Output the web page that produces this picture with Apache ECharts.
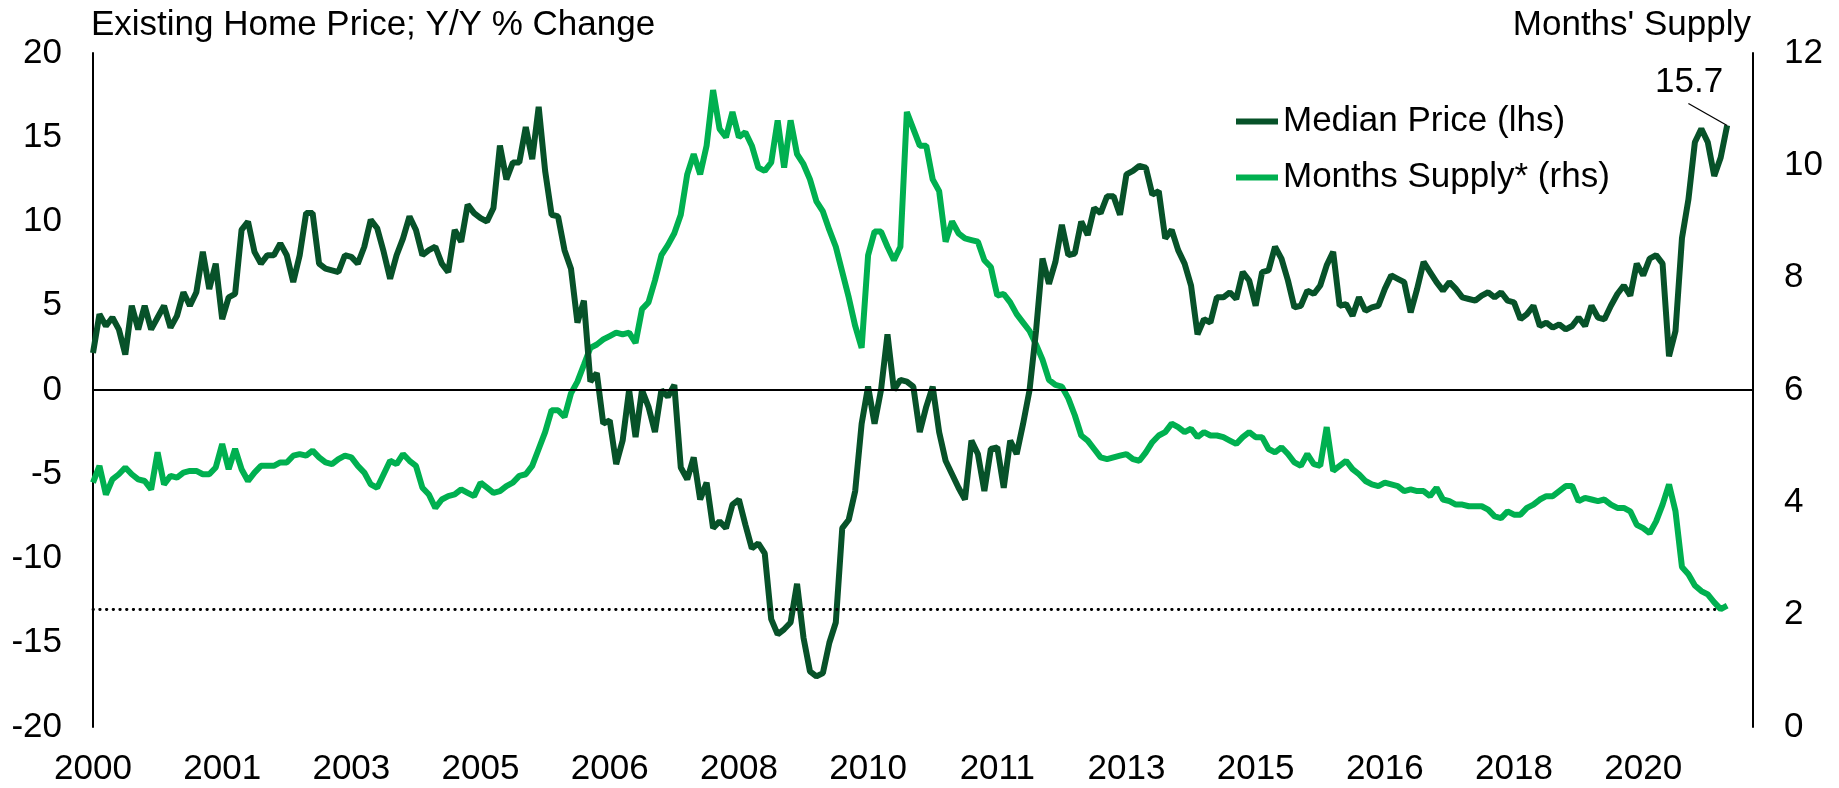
<!DOCTYPE html>
<html>
<head>
<meta charset="utf-8">
<title>Existing Home Price vs Months' Supply</title>
<script src="https://cdn.jsdelivr.net/npm/echarts/dist/echarts.min.js"></script>
<style>
  html, body { margin: 0; padding: 0; background: #fff; }
  #chart { width: 1839px; height: 788px; }
</style>
</head>
<body>
<div id="chart"></div>
<script>
// monthly, Jan 2000 - Feb 2021
var medianPrice = [
  2.2, 4.5, 3.8, 4.3, 3.6, 2.1, 5.0, 3.6, 5.0, 3.6, 4.3, 5.0,
  3.7, 4.4, 5.8, 5.0, 5.8, 8.2, 6.0, 7.5, 4.2, 5.5, 5.7, 9.5,
  10.0, 8.2, 7.5, 8.0, 8.0, 8.7, 8.0, 6.4, 8.0, 10.5, 10.5, 7.5,
  7.2, 7.1, 7.0, 8.0, 7.9, 7.5, 8.5, 10.1, 9.6, 8.2, 6.6, 8.0,
  9.0, 10.3, 9.5, 8.0, 8.3, 8.5, 7.5, 7.0, 9.5, 8.8, 11.0, 10.5,
  10.2, 10.0, 10.8, 14.5, 12.5, 13.5, 13.5, 15.6, 13.7, 16.8, 13.0, 10.4,
  10.3, 8.3, 7.2, 4.0, 5.3, 0.5, 1.0, -2.0, -1.8, -4.4, -3.0, 0.0,
  -2.8, 0.0, -1.0, -2.5, 0.0, -0.4, 0.3, -4.6, -5.3, -4.0, -6.5, -5.5,
  -8.2, -7.8, -8.2, -6.8, -6.5, -8.0, -9.4, -9.1, -9.7, -13.6, -14.5, -14.2,
  -13.8, -11.5, -14.7, -16.7, -17.0, -16.8, -15.0, -13.8, -8.2, -7.7, -6.0, -2.0,
  0.2, -2.0, 0.0, 3.3, 0.0, 0.6, 0.5, 0.2, -2.5, -1.0, 0.2, -2.5,
  -4.2, -5.0, -5.8, -6.5, -3.0, -3.8, -6.0, -3.5, -3.4, -5.8, -3.0, -3.8,
  -2.0, 0.0, 3.5, 7.8, 6.3, 7.6, 9.8, 8.0, 8.1, 10.0, 9.2, 10.8,
  10.5, 11.5, 11.5, 10.4, 12.8, 13.0, 13.3, 13.2, 11.6, 11.8, 9.0, 9.5,
  8.3, 7.5, 6.2, 3.3, 4.2, 4.0, 5.5, 5.5, 5.8, 5.4, 7.0, 6.5,
  5.0, 7.0, 7.1, 8.5, 7.8, 6.5, 4.9, 5.0, 5.9, 5.7, 6.2, 7.4,
  8.2, 5.0, 5.1, 4.4, 5.5, 4.7, 4.9, 5.0, 6.0, 6.8, 6.6, 6.4,
  4.6, 6.0, 7.6, 7.0, 6.4, 5.9, 6.4, 6.0, 5.5, 5.4, 5.3, 5.6,
  5.8, 5.5, 5.8, 5.3, 5.2, 4.2, 4.5, 5.0, 3.8, 4.0, 3.7, 3.9,
  3.6, 3.8, 4.3, 3.8, 5.0, 4.3, 4.2, 5.0, 5.7, 6.2, 5.6, 7.5,
  6.8, 7.8, 8.0, 7.5, 2.0, 3.5, 9.0, 11.3, 14.7, 15.5, 14.7, 12.7,
  13.8, 15.7
];

var monthsSupply = [
  4.35, 4.65, 4.14, 4.41, 4.5, 4.62, 4.5, 4.41, 4.38, 4.23, 4.89, 4.32,
  4.47, 4.44, 4.53, 4.56, 4.56, 4.5, 4.5, 4.62, 5.04, 4.59, 4.95, 4.59,
  4.38, 4.53, 4.65, 4.65, 4.65, 4.71, 4.71, 4.83, 4.86, 4.83, 4.92, 4.8,
  4.71, 4.68, 4.77, 4.83, 4.8, 4.65, 4.53, 4.32, 4.26, 4.5, 4.74, 4.68,
  4.86, 4.74, 4.65, 4.26, 4.14, 3.9, 4.05, 4.11, 4.14, 4.23, 4.17, 4.11,
  4.35, 4.26, 4.17, 4.2, 4.29, 4.35, 4.47, 4.5, 4.65, 4.95, 5.25, 5.64,
  5.64, 5.52, 5.94, 6.15, 6.45, 6.75, 6.81, 6.9, 6.96, 7.02, 6.99, 7.02,
  6.84, 7.44, 7.56, 7.95, 8.4, 8.58, 8.79, 9.12, 9.84, 10.2, 9.84, 10.35,
  11.34, 10.65, 10.5, 10.95, 10.5, 10.59, 10.35, 9.96, 9.9, 10.05, 10.8, 9.96,
  10.8, 10.2, 10.02, 9.75, 9.36, 9.18, 8.85, 8.55, 8.1, 7.65, 7.14, 6.75,
  8.4, 8.82, 8.82, 8.55, 8.31, 8.55, 10.95, 10.65, 10.35, 10.35, 9.75, 9.54,
  8.64, 9.0, 8.79, 8.7, 8.67, 8.64, 8.31, 8.19, 7.68, 7.71, 7.56, 7.35,
  7.2, 7.05, 6.81, 6.54, 6.18, 6.09, 6.06, 5.85, 5.55, 5.19, 5.1, 4.95,
  4.8, 4.77, 4.8, 4.83, 4.86, 4.77, 4.74, 4.89, 5.07, 5.19, 5.25, 5.4,
  5.34, 5.25, 5.31, 5.16, 5.25, 5.19, 5.19, 5.16, 5.1, 5.04, 5.16, 5.25,
  5.16, 5.16, 4.95, 4.89, 4.98, 4.86, 4.71, 4.65, 4.86, 4.68, 4.65, 5.34,
  4.56, 4.65, 4.74, 4.59, 4.5, 4.38, 4.32, 4.29, 4.35, 4.32, 4.29, 4.2,
  4.23, 4.2, 4.2, 4.11, 4.26, 4.05, 4.02, 3.96, 3.96, 3.93, 3.93, 3.93,
  3.87, 3.75, 3.72, 3.84, 3.78, 3.78, 3.9, 3.96, 4.05, 4.11, 4.11, 4.2,
  4.29, 4.29, 4.02, 4.08, 4.05, 4.02, 4.05, 3.96, 3.9, 3.9, 3.84, 3.6,
  3.54, 3.45, 3.66, 3.96, 4.32, 3.84, 2.85, 2.72, 2.52, 2.42, 2.36, 2.22,
  2.1, 2.16
];

// category axis runs a few months past the data (to Jun 2021)
var months = [];
for (var y = 2000; y <= 2021; y++) {
  for (var m = 1; m <= 12; m++) {
    if (months.length < 258) months.push(y + '-' + (m < 10 ? '0' : '') + m);
  }
}

var darkGreen = '#075229';
var lightGreen = '#00b050';
var fontFamily = '"Liberation Sans", Arial, sans-serif';
var fs = 35;
var txt = { fontSize: fs, color: '#000', fontFamily: fontFamily };

var last = medianPrice.length - 1;
var supplyLow = Math.min.apply(null, monthsSupply);
// where the leader line for the latest value starts (data units)
var calloutAt = [months[last - 6], 17.0];

// only the latest price point carries a label
var priceData = medianPrice.map(function (v, i) {
  if (i !== last) return v;
  return { value: v, label: { show: true } };
});

let myChart = echarts.init(document.getElementById('chart'));
myChart.setOption({
  animation: false,
  textStyle: { fontFamily: fontFamily },
  title: [
    {
      text: 'Existing Home Price; Y/Y % Change',
      left: 91, top: 8, padding: 0,
      textStyle: { fontSize: fs, fontWeight: 'normal', color: '#000', fontFamily: fontFamily }
    },
    {
      text: "Months' Supply",
      right: 88, top: 8, padding: 0,
      textStyle: { fontSize: fs, fontWeight: 'normal', color: '#000', fontFamily: fontFamily }
    }
  ],
  legend: {
    orient: 'vertical',
    left: 1231,
    top: 99,
    icon: 'rect',
    itemWidth: 42,
    itemHeight: 6,
    itemGap: 21,
    textStyle: txt,
    data: ['Median Price (lhs)', 'Months Supply* (rhs)']
  },
  grid: { left: 93, right: 86, top: 53, bottom: 61 },
  xAxis: {
    type: 'category',
    data: months,
    boundaryGap: false,
    axisLine: { show: false },
    axisTick: { show: false },
    splitLine: { show: false },
    axisLabel: {
      interval: 19,
      margin: 25,
      fontSize: fs,
      color: '#000',
      formatter: function (v) { return v.slice(0, 4); }
    }
  },
  yAxis: [
    {
      type: 'value',
      min: -20, max: 20, interval: 5,
      axisLine: { show: true, lineStyle: { color: '#000', width: 2 } },
      axisTick: { show: false },
      splitLine: { show: false },
      axisLabel: { margin: 31, fontSize: fs, color: '#000' }
    },
    {
      type: 'value',
      position: 'right',
      min: 0, max: 12, interval: 2,
      axisLine: { show: true, lineStyle: { color: '#000', width: 2 } },
      axisTick: { show: false },
      splitLine: { show: false },
      axisLabel: { margin: 31, fontSize: fs, color: '#000' }
    }
  ],
  series: [
    {
      name: 'Median Price (lhs)',
      type: 'line',
      yAxisIndex: 0,
      data: priceData,
      color: darkGreen,
      symbol: 'circle',
      symbolSize: 0,
      showSymbol: true,
      showAllSymbol: true,
      lineStyle: { width: 6, color: darkGreen },
      label: { show: false, position: 'top', offset: [-38, -21], fontSize: fs, color: '#000', formatter: '{c}' },
      markLine: {
        silent: true,
        symbol: ['none', 'none'],
        label: { show: false },
        data: [
          { yAxis: 0, lineStyle: { color: '#000', type: 'solid', width: 2 } },
          [
            { coord: calloutAt, lineStyle: { color: '#000', type: 'solid', width: 1.3 } },
            { coord: [months[last], medianPrice[last]] }
          ]
        ]
      },
      z: 3
    },
    {
      name: 'Months Supply* (rhs)',
      type: 'line',
      yAxisIndex: 1,
      data: monthsSupply,
      color: lightGreen,
      showSymbol: false,
      lineStyle: { width: 6, color: lightGreen },
      markLine: {
        silent: true,
        symbol: ['none', 'none'],
        label: { show: false },
        lineStyle: { color: '#000', type: [0.5, 6.2], cap: 'round', width: 2.8 },
        data: [[{ coord: [months[0], supplyLow] }, { coord: [months[last - 1], supplyLow] }]]
      },
      z: 2
    }
  ]
});
</script>
</body>
</html>
